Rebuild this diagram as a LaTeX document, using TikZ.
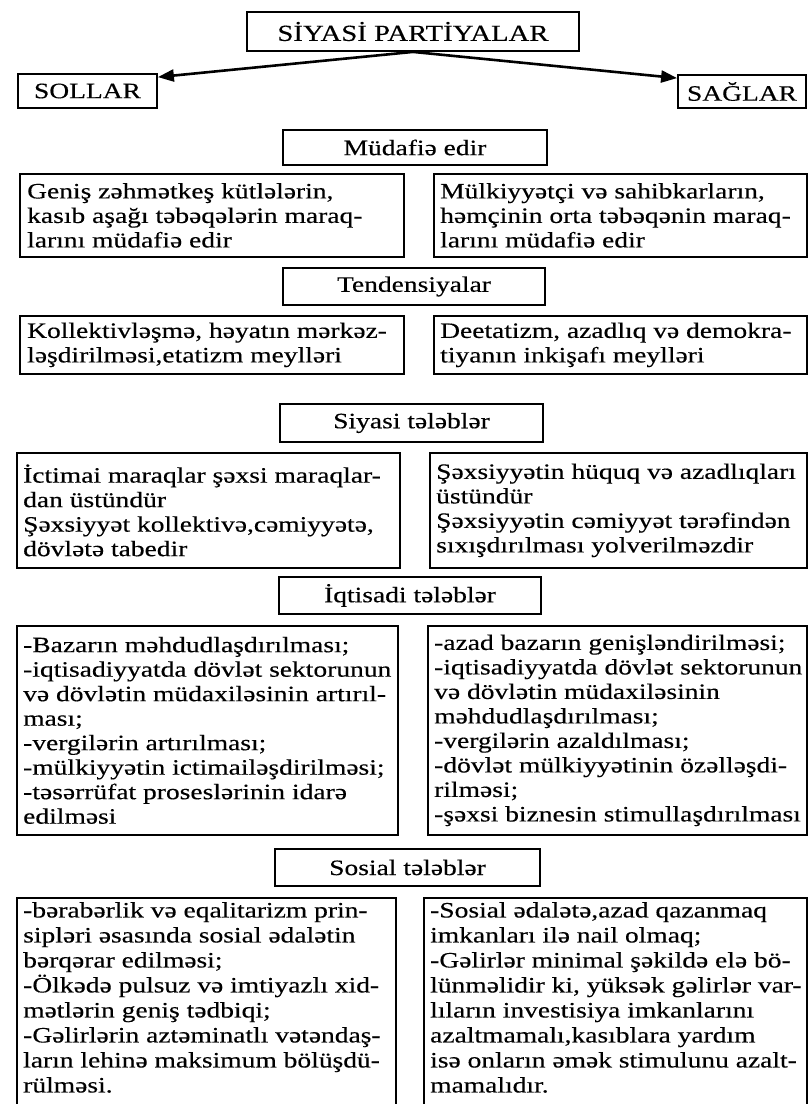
\documentclass[tikz,border=0pt]{standalone}
\usepackage{fontspec}
\setmainfont[FakeStretch=1.25,FakeBold=0.35]{Liberation Serif}
\usetikzlibrary{arrows.meta,calc}
\begin{document}
\begin{tikzpicture}[x=1pt,y=-1pt,
  hbox/.style={draw,line width=1.8pt,inner sep=0pt,font=\fontsize{22}{24.5}\selectfont},
  fbox/.style={draw,line width=1.8pt,inner sep=0pt,anchor=north west},
  txt/.style={inner sep=0pt,align=left,font=\fontsize{22}{24.5}\selectfont},
  arr/.style={line width=2.6pt,-{Triangle[length=16pt,width=12pt]}}]
\useasboundingbox (0,0) rectangle (808,1104);
\clip (0,0) rectangle (808,1104);

% title and branches
\node[hbox,minimum width=332pt,minimum height=39pt,font=\fontsize{23}{25}\selectfont] (top) at (413,31.5) {SİYASİ PARTİYALAR};
\node[hbox,minimum width=139pt,minimum height=34pt] (sol) at (87.5,91) {SOLLAR};
\node[hbox,minimum width=128pt,minimum height=33pt] (sag) at (742,91.5) {SAĞLAR};
\draw[arr] (top.south) -- ($(sol.north east)+(0,4)$);
\draw[arr] (top.south) -- ($(sag.north west)+(0,4)$);

% headers
\node[hbox,minimum width=264pt,minimum height=35pt] (mud) at (415,147.5) {Müdafiə edir};
\node[hbox,minimum width=262pt,minimum height=37pt] (ten) at (414,286.5) {Tendensiyalar};
\node[hbox,minimum width=263pt,minimum height=38pt] (siy) at (411.5,423) {Siyasi tələblər};
\node[hbox,minimum width=262pt,minimum height=37pt] (iqt) at (410,595.5) {İqtisadi tələblər};
\node[hbox,minimum width=265pt,minimum height=37pt] (sos) at (407.5,867.5) {Sosial tələblər};

% frames
\node[fbox,minimum width=384pt,minimum height=83pt] (b1l) at (19,173) {};
\node[fbox,minimum width=373pt,minimum height=83pt] (b1r) at (433,173) {};
\node[fbox,minimum width=384pt,minimum height=58pt] (b2l) at (19,315) {};
\node[fbox,minimum width=373pt,minimum height=58pt] (b2r) at (433,315) {};
\node[fbox,minimum width=383pt,minimum height=115pt] (b3l) at (16,452) {};
\node[fbox,minimum width=377pt,minimum height=115pt] (b3r) at (429,452) {};
\node[fbox,minimum width=381pt,minimum height=209pt] (b4l) at (16,625) {};
\node[fbox,minimum width=379pt,minimum height=209pt] (b4r) at (427,625) {};
\node[fbox,minimum width=379pt,minimum height=260pt] (b5l) at (16,897) {};
\node[fbox,minimum width=383pt,minimum height=260pt] (b5r) at (423,897) {};

% texts
\node[txt,anchor=west] (t1l) at ($(b1l.west)+(8,0)$) {Geniş zəhmətkeş kütlələrin,\\kasıb aşağı təbəqələrin maraq-\\larını müdafiə edir};
\node[txt,anchor=west] (t1r) at ($(b1r.west)+(7,0)$) {Mülkiyyətçi və sahibkarların,\\həmçinin orta təbəqənin maraq-\\larını müdafiə edir};
\node[txt,anchor=west] (t2l) at ($(b2l.west)+(8,0)$) {Kollektivləşmə, həyatın mərkəz-\\ləşdirilməsi,etatizm meylləri};
\node[txt,anchor=west] (t2r) at ($(b2r.west)+(7,0)$) {Deetatizm, azadlıq və demokra-\\tiyanın inkişafı meylləri};
\node[txt,anchor=west] (t3l) at ($(b3l.west)+(7,0)$) {İctimai maraqlar şəxsi maraqlar-\\dan üstündür\\Şəxsiyyət kollektivə,cəmiyyətə,\\dövlətə tabedir};
\node[txt,anchor=west] (t3r) at ($(b3r.west)+(7,0)$) {Şəxsiyyətin hüquq və azadlıqları\\üstündür\\Şəxsiyyətin cəmiyyət tərəfindən\\sıxışdırılması yolverilməzdir};
\node[txt,anchor=west] (t4l) at ($(b4l.west)+(7,0)$) {-Bazarın məhdudlaşdırılması;\\-iqtisadiyyatda dövlət sektorunun\\və dövlətin müdaxiləsinin artırıl-\\ması;\\-vergilərin artırılması;\\-mülkiyyətin ictimailəşdirilməsi;\\-təsərrüfat proseslərinin idarə\\edilməsi};
\node[txt,anchor=west] (t4r) at ($(b4r.west)+(7,0)$) {-azad bazarın genişləndirilməsi;\\-iqtisadiyyatda dövlət sektorunun\\və dövlətin müdaxiləsinin\\məhdudlaşdırılması;\\-vergilərin azaldılması;\\-dövlət mülkiyyətinin özəlləşdi-\\rilməsi;\\-şəxsi biznesin stimullaşdırılması};
\node[txt,anchor=north west,font=\fontsize{22}{25}\selectfont] (t5l) at ($(b5l.north west)+(7,5)$) {-bərabərlik və eqalitarizm prin-\\sipləri əsasında sosial ədalətin\\bərqərar edilməsi;\\-Ölkədə pulsuz və imtiyazlı xid-\\mətlərin geniş tədbiqi;\\-Gəlirlərin aztəminatlı vətəndaş-\\ların lehinə maksimum bölüşdü-\\rülməsi.};
\node[txt,anchor=north west,font=\fontsize{22}{25}\selectfont] (t5r) at ($(b5r.north west)+(7,5)$) {-Sosial ədalətə,azad qazanmaq\\imkanları ilə nail olmaq;\\-Gəlirlər minimal şəkildə elə bö-\\lünməlidir ki, yüksək gəlirlər var-\\lıların investisiya imkanlarını\\azaltmamalı,kasıblara yardım\\isə onların əmək stimulunu azalt-\\mamalıdır.};
\end{tikzpicture}
\end{document}
